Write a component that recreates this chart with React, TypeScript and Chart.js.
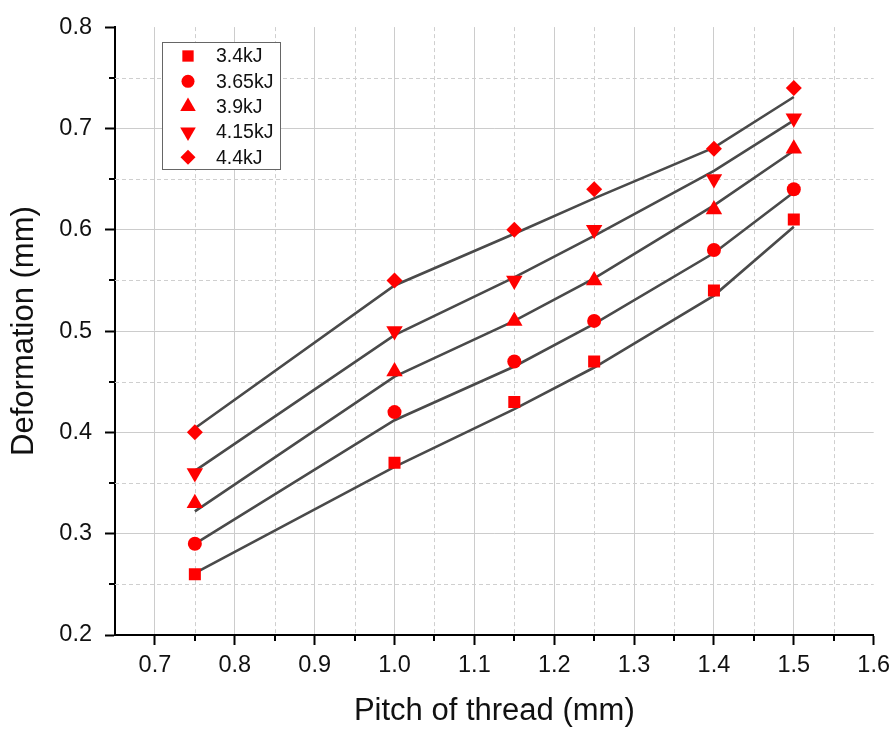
import React, { useEffect, useRef } from 'react';
import { Chart, registerables } from 'chart.js';
import { drawPoint } from 'chart.js/helpers';

Chart.register(...registerables);

// ---- data ----
const pitch = [0.75, 1.0, 1.15, 1.25, 1.4, 1.5];
const seriesNames = ['3.4kJ', '3.65kJ', '3.9kJ', '4.15kJ', '4.4kJ'];
const measured34 = [0.26, 0.37, 0.43, 0.47, 0.54, 0.61];
const measured365 = [0.29, 0.42, 0.47, 0.51, 0.58, 0.64];
const measured39 = [0.33, 0.46, 0.51, 0.55, 0.62, 0.68];
const measured415 = [0.36, 0.5, 0.55, 0.6, 0.65, 0.71];
const measured44 = [0.4, 0.55, 0.6, 0.64, 0.68, 0.74];
const fit34 = [0.261, 0.366, 0.423, 0.464, 0.535, 0.603];
const fit365 = [0.29, 0.412, 0.465, 0.507, 0.577, 0.637];
const fit39 = [0.322, 0.455, 0.51, 0.552, 0.624, 0.678];
const fit415 = [0.362, 0.496, 0.553, 0.594, 0.658, 0.708];
const fit44 = [0.404, 0.545, 0.596, 0.631, 0.681, 0.731];
const xTicks = [0.7, 0.8, 0.9, 1.0, 1.1, 1.2, 1.3, 1.4, 1.5, 1.6];
const yTicks = [0.2, 0.3, 0.4, 0.5, 0.6, 0.7, 0.8];
const xMinor = [0.75, 0.85, 0.95, 1.05, 1.15, 1.25, 1.35, 1.45, 1.55];
const yMinor = [0.25, 0.35, 0.45, 0.55, 0.65, 0.75];
const xTitle = 'Pitch of thread (mm)';
const yTitle = 'Deformation (mm)';

const measured = [measured34, measured365, measured39, measured415, measured44];
const fits = [fit34, fit365, fit39, fit415, fit44];
const pointStyles = ['rect', 'circle', 'triangle', 'triangle', 'rectRot'];
const rotations = [0, 0, 0, 180, 0];
const radii = [8.5, 7, 9.5, 9.5, 8];

const RED = '#ff0000';
const LINE = '#4a4a4a';
const FONT = 'Liberation Sans, Arial, sans-serif';
const TXT = '#111';

const minorPlugin = {
  id: 'minorGrid',
  beforeDatasetsDraw(chart: any) {
    const { ctx, chartArea, scales } = chart;
    const { left, right, top, bottom } = chartArea;
    const x = scales.x;
    const y = scales.y;
    ctx.save();
    ctx.strokeStyle = '#cfcfcf';
    ctx.lineWidth = 1;
    ctx.setLineDash([4, 3]);
    xMinor.forEach((v) => {
      const px = Math.round(x.getPixelForValue(v)) + 0.5;
      ctx.beginPath();
      ctx.moveTo(px, top);
      ctx.lineTo(px, bottom);
      ctx.stroke();
    });
    yMinor.forEach((v) => {
      const py = Math.round(y.getPixelForValue(v)) + 0.5;
      ctx.beginPath();
      ctx.moveTo(left, py);
      ctx.lineTo(right, py);
      ctx.stroke();
    });
    ctx.setLineDash([]);
    ctx.strokeStyle = '#000';
    ctx.lineWidth = 2;
    xMinor.forEach((v) => {
      const px = Math.round(x.getPixelForValue(v));
      ctx.beginPath();
      ctx.moveTo(px, bottom);
      ctx.lineTo(px, bottom + 6);
      ctx.stroke();
    });
    yMinor.forEach((v) => {
      const py = Math.round(y.getPixelForValue(v));
      ctx.beginPath();
      ctx.moveTo(left - 6, py);
      ctx.lineTo(left, py);
      ctx.stroke();
    });
    ctx.restore();
  },
};

const legendPlugin = {
  id: 'boxLegend',
  afterDatasetsDraw(chart: any) {
    const { ctx } = chart;
    ctx.save();
    const bx = 162.5, by = 42.5, bw = 118, bh = 127;
    ctx.fillStyle = '#fff';
    ctx.fillRect(bx, by, bw, bh);
    ctx.strokeStyle = '#666';
    ctx.lineWidth = 1;
    ctx.strokeRect(bx, by, bw, bh);
    seriesNames.forEach((name, i) => {
      const cy = 56 + i * 25.3;
      ctx.fillStyle = RED;
      ctx.strokeStyle = RED;
      drawPoint(ctx, { pointStyle: pointStyles[i], rotation: rotations[i], radius: radii[i] - 0.5, borderWidth: 0 } as any, 188, cy);
      ctx.fillStyle = TXT;
      ctx.font = `19.5px ${FONT}`;
      ctx.textAlign = 'left';
      ctx.textBaseline = 'middle';
      ctx.fillText(name, 216, cy + 1);
    });
    ctx.restore();
  },
};

export default function App() {
  const ref = useRef<HTMLCanvasElement>(null);
  useEffect(() => {
    const markerSets = seriesNames.map((name, i) => ({
      label: name,
      data: pitch.map((p, j) => ({ x: p, y: measured[i][j] })),
      showLine: false,
      pointStyle: pointStyles[i],
      rotation: rotations[i],
      pointRadius: radii[i],
      backgroundColor: RED,
      borderColor: RED,
      borderWidth: 0,
      order: 0,
    }));
    const lineSets = seriesNames.map((name, i) => ({
      label: name + ' fit',
      data: pitch.map((p, j) => ({ x: p, y: fits[i][j] })),
      showLine: true,
      pointRadius: 0,
      borderColor: LINE,
      backgroundColor: LINE,
      borderWidth: 2.6,
      tension: 0,
      fill: false,
      order: 1,
    }));
    const chart = new Chart(ref.current as HTMLCanvasElement, {
      type: 'scatter',
      data: { datasets: [...markerSets, ...lineSets] as any },
      options: {
        responsive: false,
        animation: false,
        events: [],
        layout: { padding: { top: 17, right: 19, left: 0, bottom: 0 } },
        plugins: { legend: { display: false }, tooltip: { enabled: false } },
        scales: {
          x: {
            type: 'linear',
            min: 0.65,
            max: 1.6,
            afterBuildTicks: (s: any) => {
              s.ticks = xTicks.map((v) => ({ value: v }));
            },
            afterFit: (s: any) => {
              s.height = 98;
            },
            ticks: {
              callback: (v: any) => Number(v).toFixed(1),
              font: { family: FONT, size: 23.5 },
              color: TXT,
              padding: 6,
              maxRotation: 0,
              autoSkip: false,
            },
            grid: {
              color: (c: any) => (c.tick && c.tick.value > 1.59 ? 'rgba(0,0,0,0)' : '#cccccc'),
              lineWidth: 1,
              tickColor: '#000',
              tickLength: 10,
              tickWidth: 2,
            },
            border: { color: '#000', width: 2 },
            title: {
              display: true,
              text: xTitle,
              font: { family: FONT, size: 31 },
              color: TXT,
              padding: { top: 0, bottom: 3 },
            },
          },
          y: {
            type: 'linear',
            min: 0.2,
            max: 0.8,
            afterBuildTicks: (s: any) => {
              s.ticks = yTicks.map((v) => ({ value: v }));
            },
            afterFit: (s: any) => {
              s.width = 115;
            },
            ticks: {
              callback: (v: any) => Number(v).toFixed(1),
              font: { family: FONT, size: 23.5 },
              color: TXT,
              padding: 13,
            },
            grid: {
              color: (c: any) =>
                c.tick && (c.tick.value > 0.79 || c.tick.value < 0.21) ? 'rgba(0,0,0,0)' : '#cccccc',
              lineWidth: 1,
              tickColor: '#000',
              tickLength: 10,
              tickWidth: 2,
            },
            border: { color: '#000', width: 2 },
            title: {
              display: true,
              text: yTitle,
              font: { family: FONT, size: 31 },
              color: TXT,
              padding: { top: 6, bottom: 0 },
            },
          },
        },
      },
      plugins: [minorPlugin, legendPlugin],
    } as any);
    return () => chart.destroy();
  }, []);
  return (
    <div style={{ position: 'absolute', left: 0, top: 0, width: 896, height: 733, background: '#fff' }}>
      <canvas ref={ref} width={896} height={733} style={{ display: 'block' }} />
    </div>
  );
}
